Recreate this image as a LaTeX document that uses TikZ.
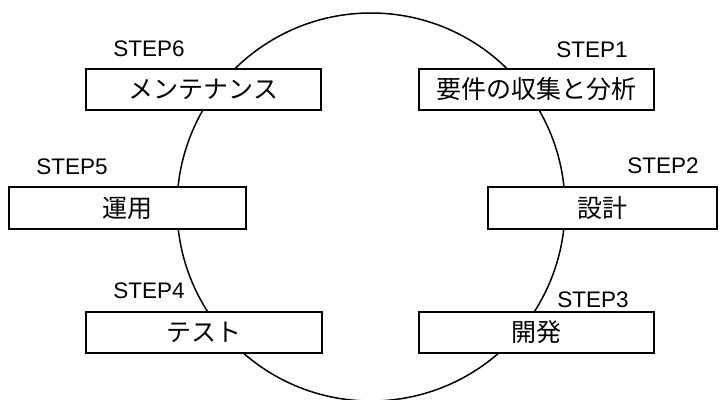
\documentclass[tikz,border=0pt]{standalone}
\usepackage{fontspec}
\setmainfont{Liberation Sans}
\newfontfamily\jp{Noto Sans CJK JP}
\tikzset{
  stepbox/.style={draw=black, line width=1.8pt, fill=white, inner sep=0pt,
    font=\jp\fontsize{25}{28}\selectfont},
  steplabel/.style={inner sep=0pt, font=\fontsize{22.5}{26}\selectfont},
  ring/.style={draw=black, line width=1.5pt}
}
\begin{document}
\begin{tikzpicture}[x=1pt,y=-1pt]
\useasboundingbox (0,0) rectangle (719,399);
\fill[white] (0,0) rectangle (719,399);
\coordinate (c) at (371,207);
\draw[ring] (c) circle[radius=194];
\node[stepbox, minimum width=235, minimum height=41] (b6) at (203.5,89.5) {メンテナンス};
\node[stepbox, minimum width=235, minimum height=41] (b1) at (536.5,89.5) {要件の収集と分析};
\node[stepbox, minimum width=237, minimum height=42] (b5) at (127.5,208) {運用};
\node[stepbox, minimum width=229, minimum height=42] (b2) at (602.5,208) {設計};
\node[stepbox, minimum width=236, minimum height=41] (b4) at (204,332.5) {テスト};
\node[stepbox, minimum width=235, minimum height=41] (b3) at (536.5,332.5) {開発};
\node[steplabel] (l6) at (149,48.5) {STEP6};
\node[steplabel] (l1) at (592,50) {STEP1};
\node[steplabel] (l5) at (72,167) {STEP5};
\node[steplabel] (l2) at (663,166) {STEP2};
\node[steplabel] (l4) at (149,291) {STEP4};
\node[steplabel] (l3) at (593,299.5) {STEP3};
\end{tikzpicture}
\end{document}
